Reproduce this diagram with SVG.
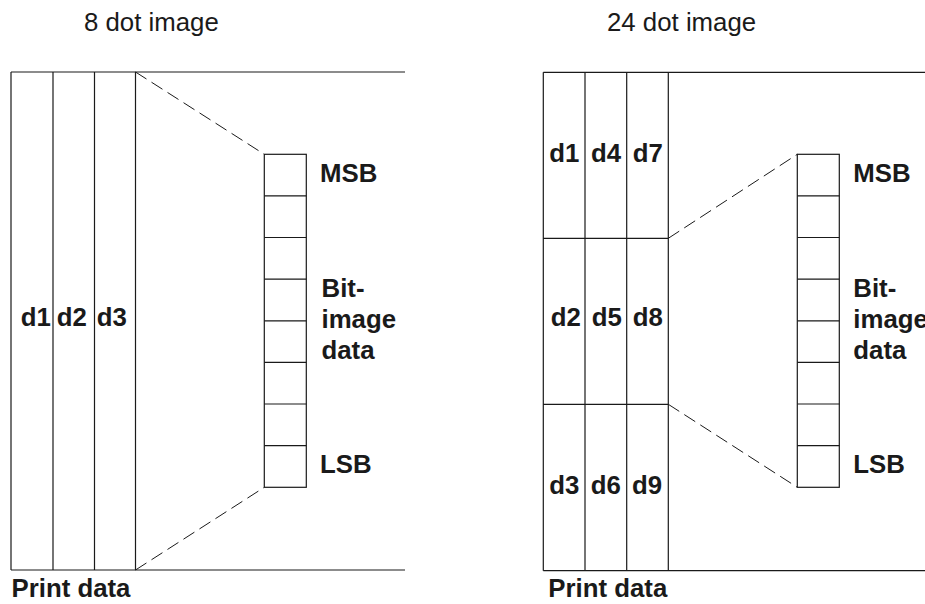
<svg xmlns="http://www.w3.org/2000/svg" width="925" height="604" viewBox="0 0 925 604">
<style>
.ln{fill:none;stroke:#1a1a1a;stroke-width:1.2}
.cell{fill:#fff;stroke:#1a1a1a;stroke-width:1.2}
.dash{fill:none;stroke:#1a1a1a;stroke-width:1;stroke-dasharray:13 6}
.t{font-family:"Liberation Sans",Arial,sans-serif;font-size:25.8px;fill:#1a1a1a}
.b{font-family:"Liberation Sans",Arial,sans-serif;font-size:25.8px;font-weight:bold;fill:#1a1a1a}
</style>
<rect width="925" height="604" fill="#fff"/>
<defs>
<g id="bits">
<rect class="cell" x="0" y="0" width="42" height="333"/>
<path class="ln" d="M0 41.6H42M0 83.2H42M0 124.9H42M0 166.5H42M0 208.1H42M0 249.7H42M0 291.4H42"/>
</g>
</defs>

<g id="title-8"><text class="t" x="84" y="30.5">8 dot image</text></g>
<g id="title-24"><text class="t" x="607" y="30.5">24 dot image</text></g>

<g id="print-8">
<path class="ln" d="M11 72H405M11 570H405M11 72V570M53 72V570M94.5 72V570M135.5 72V570"/>
<text class="b" x="20.7" y="326">d1</text>
<text class="b" x="56.7" y="326">d2</text>
<text class="b" x="96.7" y="326">d3</text>
<text class="b" x="11.5" y="597">Print data</text>
</g>

<g id="bits-8">
<use href="#bits" x="264.3" y="154.3"/>
<text class="b" x="320" y="181.7">MSB</text>
<text class="b" x="321.5" y="296.5">Bit-</text>
<text class="b" x="321.5" y="328">image</text>
<text class="b" x="321.5" y="358.5">data</text>
<text class="b" x="320" y="473.3">LSB</text>
</g>

<g id="print-24">
<path class="ln" d="M543.3 72.3H925M543.3 570.7H925M543.3 72.3V570.7M585 72.3V570.7M626.7 72.3V570.7M668.3 72.3V570.7M543.3 238.3H668.3M543.3 404.3H668.3"/>
<text class="b" x="549.3" y="161.7">d1</text>
<text class="b" x="591" y="161.7">d4</text>
<text class="b" x="632.7" y="161.7">d7</text>
<text class="b" x="550.7" y="326">d2</text>
<text class="b" x="591.7" y="326">d5</text>
<text class="b" x="632.7" y="326">d8</text>
<text class="b" x="549.3" y="494.3">d3</text>
<text class="b" x="590.7" y="494.3">d6</text>
<text class="b" x="632" y="494.3">d9</text>
<text class="b" x="548.3" y="597.3">Print data</text>
</g>

<g id="bits-24">
<use href="#bits" x="797.3" y="154.3"/>
<text class="b" x="853.3" y="181.7">MSB</text>
<text class="b" x="853.3" y="296.7">Bit-</text>
<text class="b" x="853.3" y="328">image</text>
<text class="b" x="853.3" y="358.5">data</text>
<text class="b" x="853.3" y="473">LSB</text>
</g>

<g id="connectors">
<path class="dash" d="M135.5 72L264.3 154.3"/>
<path class="dash" d="M135.5 570L264.3 487.3"/>
<path class="dash" d="M668.3 238.3L797.3 154.3"/>
<path class="dash" d="M668.3 404.3L797.3 487.3"/>
</g>
</svg>
